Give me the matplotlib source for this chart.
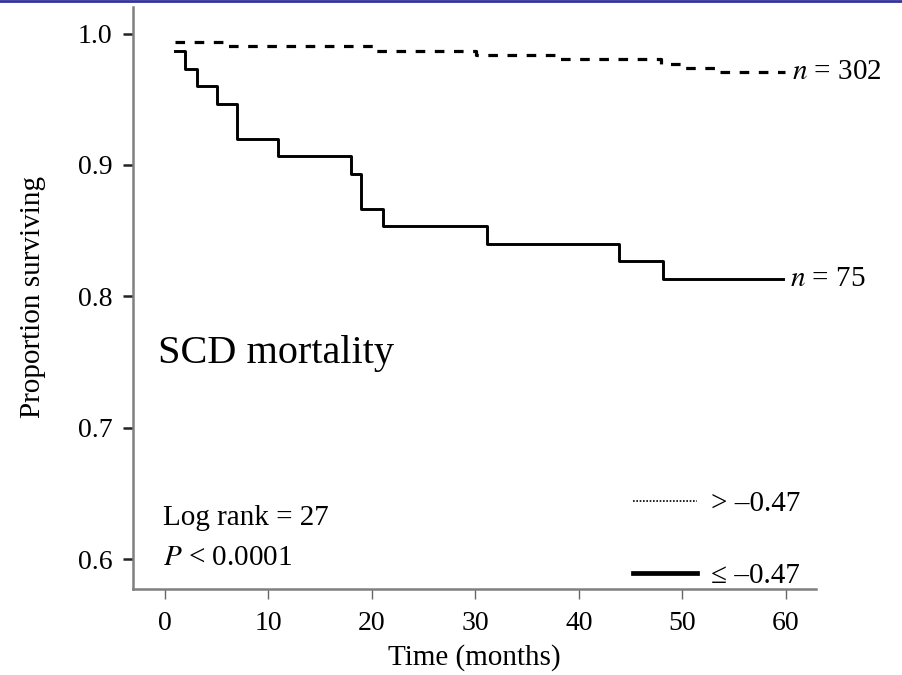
import matplotlib
matplotlib.use("Agg")
import matplotlib.pyplot as plt
from matplotlib.lines import Line2D

# Kaplan-Meier curves
low_t = [1.0, 2.0, 3.1, 5.1, 7.0, 11.0, 18.0, 19.0, 21.1, 31.1, 43.9, 48.1, 59.7]
low_s = [0.9867, 0.9733, 0.9600, 0.9467, 0.9200, 0.9067, 0.8933, 0.8667, 0.8533, 0.8400, 0.8267, 0.8133, 0.8133]

high_t = [1.0, 6.1, 20.1, 30.1, 37.9, 47.9, 50.0, 53.5, 59.9]
high_s = [0.9936, 0.9903, 0.9870, 0.9836, 0.9803, 0.9770, 0.9737, 0.9704, 0.9704]

x_ticks = [0, 10, 20, 30, 40, 50, 60]
y_ticks = [0.6, 0.7, 0.8, 0.9, 1.0]
y_ticklabels = ["0.6", "0.7", "0.8", "0.9", "1.0"]

plt.rcParams['font.family'] = ['Liberation Serif', 'DejaVu Serif']
plt.rcParams['mathtext.fontset'] = 'stix'

fig = plt.figure(figsize=(9.03, 6.75), dpi=100)
ax = fig.add_axes([0.1473, 0.1274, 0.7564, 0.8622])

ax.plot(high_t, high_s, drawstyle='steps-post', color='black', lw=2.3, dashes=(3, 3))
ax.plot(low_t, low_s, drawstyle='steps-post', color='black', lw=2.1)

ax.set_xlim(-3.04, 62.9)
ax.set_ylim(0.5772, 1.0202)
ax.set_xticks(x_ticks)
ax.set_yticks(y_ticks)
ax.set_yticklabels(y_ticklabels)

for s in ['top', 'right']:
    ax.spines[s].set_visible(False)
for s in ['left', 'bottom']:
    ax.spines[s].set_color('#808080')
    ax.spines[s].set_linewidth(1.8)
ax.tick_params(axis='y', direction='out', length=7, width=1.8, color='#222222',
               labelsize=20, pad=8)
ax.tick_params(axis='x', direction='out', length=7, width=1.0, color='#666666',
               labelsize=20, pad=9)

ax.set_xlabel("Time (months)", fontsize=21)
ax.set_ylabel("Proportion surviving", fontsize=21)
ax.xaxis.set_label_coords(0.5, -0.095)
ax.yaxis.set_label_coords(-0.127, 0.501)

ax.text(high_t[-1] + 0.7, high_s[-1], "$n$ = 302", fontsize=21, va='center', ha='left')
ax.text(low_t[-1] + 0.7, low_s[-1], "$n$ = 75", fontsize=21, va='center', ha='left')

ax.text(-0.6, 0.7568, "SCD mortality", fontsize=29, va='center', ha='left')
ax.text(-0.13, 0.6313, "Log rank = 27", fontsize=21, va='center', ha='left')
ax.text(-0.13, 0.6009, "$P$ < 0.0001", fontsize=21, va='center', ha='left')

handles = [Line2D([], [], color='black', lw=1.2, linestyle=(0, (1, 1))),
           Line2D([], [], color='black', lw=3.4)]
ax.legend(handles, ["> \u20130.47", "\u2264 \u20130.47"], loc='upper left',
          bbox_to_anchor=(0.711, 0.194), frameon=False, fontsize=21,
          handlelength=2.2, handletextpad=0.45, labelspacing=1.55, borderpad=0)

fig.add_artist(Line2D([0, 1], [0.998, 0.998], transform=fig.transFigure,
                      color='#33339a', lw=2))

plt.savefig("out.png", dpi=100)
